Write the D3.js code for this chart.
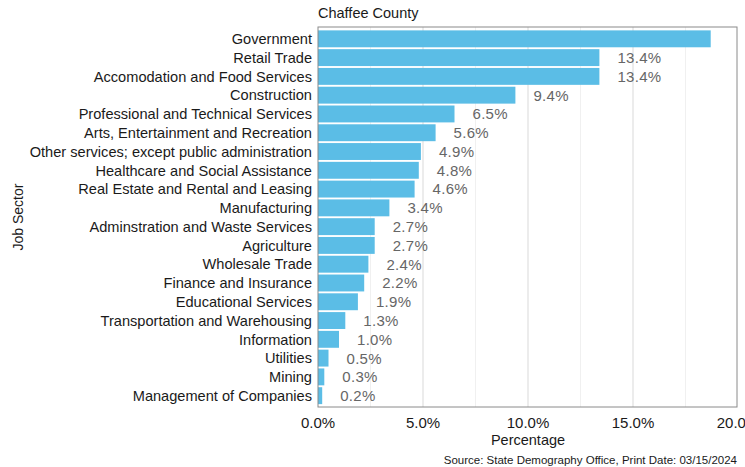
<!DOCTYPE html>
<html>
<head>
<meta charset="utf-8">
<script src="https://cdn.jsdelivr.net/npm/d3@7"></script>
<style>
  body { margin: 0; background: #fff; }
  svg { display: block; font-family: "Liberation Sans", Arial, sans-serif; }
</style>
</head>
<body>
<svg id="chart" width="745" height="467"></svg>
<script>
// Job sectors, largest share first
const sectors = [
  "Government", "Retail Trade", "Accomodation and Food Services", "Construction",
  "Professional and Technical Services", "Arts, Entertainment and Recreation",
  "Other services; except public administration", "Healthcare and Social Assistance",
  "Real Estate and Rental and Leasing", "Manufacturing", "Adminstration and Waste Services",
  "Agriculture", "Wholesale Trade", "Finance and Insurance", "Educational Services",
  "Transportation and Warehousing", "Information", "Utilities", "Mining",
  "Management of Companies"
];
// Share of jobs, percent
const shares = [18.7, 13.4, 13.4, 9.4, 6.5, 5.6, 4.9, 4.8, 4.6, 3.4, 2.7, 2.7, 2.4, 2.2, 1.9, 1.3, 1.0, 0.5, 0.3, 0.2];
const xTicks = [0, 5, 10, 15, 20];
const xMinor = [2.5, 7.5, 12.5, 17.5];

const data = sectors.map((s, i) => ({ sector: s, value: shares[i] }));

const svg = d3.select("#chart");
const m = { left: 318, top: 27, right: 737, bottom: 407 };

const x = d3.scaleLinear().domain([0, 20]).range([m.left, m.left + 420]);
const y = d3.scaleBand().domain(sectors).range([m.top + 1.5, m.bottom - 1]).paddingInner(0.1).paddingOuter(0.1);

// panel grid
svg.append("g").selectAll("line").data(xMinor).join("line")
  .attr("x1", d => x(d)).attr("x2", d => x(d))
  .attr("y1", m.top).attr("y2", m.bottom)
  .attr("stroke", "#f0f0f0").attr("stroke-width", 1);
svg.append("g").selectAll("line").data(xTicks.filter(d => d > 0 && d < 20)).join("line")
  .attr("x1", d => x(d)).attr("x2", d => x(d))
  .attr("y1", m.top).attr("y2", m.bottom)
  .attr("stroke", "#e0e0e0").attr("stroke-width", 1.2);

// bars
svg.append("g").selectAll("rect").data(data).join("rect")
  .attr("x", x(0)).attr("y", d => y(d.sector))
  .attr("width", d => x(d.value) - x(0)).attr("height", y.bandwidth())
  .attr("fill", "#5bbde6");

// value labels; any label that would run past the panel edge is dropped
const labels = svg.append("g").selectAll("text").data(data).join("text")
  .attr("x", d => x(d.value) + 18)
  .attr("y", d => y(d.sector) + y.bandwidth() / 2)
  .attr("dy", "0.36em")
  .attr("font-size", 15).attr("fill", "#666")
  .attr("letter-spacing", 0.3)
  .text(d => d.value.toFixed(1) + "%");
labels.filter(function (d) {
  return x(d.value) + 18 + this.getComputedTextLength() > m.right;
}).remove();

// panel border
svg.append("rect").attr("x", m.left).attr("y", m.top)
  .attr("width", m.right - m.left).attr("height", m.bottom - m.top)
  .attr("fill", "none").attr("stroke", "#8a8a8a").attr("stroke-width", 1);

// y axis category labels
svg.append("g").selectAll("text").data(sectors).join("text")
  .attr("x", m.left - 6)
  .attr("y", d => y(d) + y.bandwidth() / 2)
  .attr("dy", "0.36em")
  .attr("text-anchor", "end")
  .attr("font-size", 14.6).attr("fill", "#1a1a1a")
  .text(d => d);

// x axis tick labels
svg.append("g").selectAll("text").data(xTicks).join("text")
  .attr("x", d => x(d)).attr("y", 428)
  .attr("text-anchor", "middle")
  .attr("font-size", 15).attr("fill", "#1a1a1a")
  .text(d => d.toFixed(1) + "%");

// titles
svg.append("text").attr("x", m.left).attr("y", 18)
  .attr("font-size", 14.5).attr("fill", "#1a1a1a").text("Chaffee County");
svg.append("text").attr("x", 528).attr("y", 445)
  .attr("text-anchor", "middle").attr("font-size", 14.5).attr("fill", "#1a1a1a").text("Percentage");
svg.append("text").attr("transform", "translate(23,217) rotate(-90)")
  .attr("text-anchor", "middle").attr("font-size", 14).attr("fill", "#1a1a1a").text("Job Sector");
svg.append("text").attr("x", 737).attr("y", 464)
  .attr("text-anchor", "end").attr("font-size", 11.5).attr("fill", "#1a1a1a")
  .text("Source: State Demography Office, Print Date: 03/15/2024");
</script>
</body>
</html>
